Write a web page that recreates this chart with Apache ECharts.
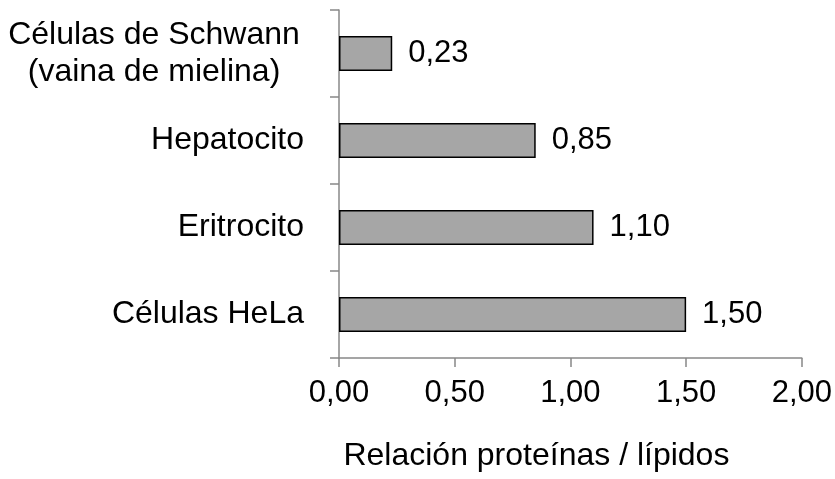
<!DOCTYPE html>
<html>
<head>
<meta charset="utf-8">
<script src="https://cdn.jsdelivr.net/npm/echarts@6/dist/echarts.min.js"></script>
<style>html,body{margin:0;padding:0;background:#fff}#c{width:835px;height:479px}</style>
</head>
<body>
<div id="c"></div>
<script>
var categories = ['Células HeLa', 'Eritrocito', 'Hepatocito', 'Células de Schwann\n(vaina de mielina)'];
var values = [1.50, 1.10, 0.85, 0.23];
var xTicks = [0, 0.5, 1, 1.5, 2];
var axisTitle = 'Relación proteínas / lípidos';

var FONT = 'Liberation Sans, Arial, sans-serif';
var FS = 32;
var FS2 = 31;
function fmt(v){ return v.toFixed(2).replace('.', ','); }

var chart = echarts.init(document.getElementById('c'));
chart.setOption({
  animation: false,
  grid: { left: 339, right: 33, top: 10, bottom: 121 },
  xAxis: {
    type: 'value',
    min: xTicks[0], max: xTicks[xTicks.length-1], interval: 0.5,
    splitLine: { show: false },
    axisLine: { show: true, lineStyle: { color: '#888', width: 1.5 } },
    axisTick: { show: true, length: 9, lineStyle: { color: '#888', width: 1.5 } },
    axisLabel: { margin: 20, color: '#000', fontFamily: FONT, fontSize: FS2, formatter: function(v){ return fmt(v); } },
    name: axisTitle, nameLocation: 'middle', nameGap: 82,
    nameTextStyle: { color: '#000', fontFamily: FONT, fontSize: FS, padding: [0, 68, 0, 0] }
  },
  yAxis: {
    type: 'category', data: categories,
    axisLine: { show: true, lineStyle: { color: '#888', width: 1.5 } },
    axisTick: { show: true, length: 9, lineStyle: { color: '#888', width: 1.5 } },
    axisLabel: {
      margin: 35, color: '#000', fontFamily: FONT, fontSize: FS,
      formatter: function(v){
        if (v.indexOf('\n') >= 0) {
          return v.split('\n').map(function(s){ return '{c|' + s + '}'; }).join('\n');
        }
        return v;
      },
      rich: { c: { width: 300, align: 'center', fontFamily: FONT, fontSize: FS, color: '#000', lineHeight: 37 } }
    }
  },
  series: [{
    type: 'bar', data: values, barWidth: 35,
    itemStyle: { color: '#a6a6a6', borderColor: '#000', borderWidth: 1.5 },
    label: { show: true, position: 'right', distance: 16, color: '#000', fontFamily: FONT, fontSize: FS2,
      formatter: function(p){ return fmt(p.value); } }
  }]
});
</script>
</body>
</html>
